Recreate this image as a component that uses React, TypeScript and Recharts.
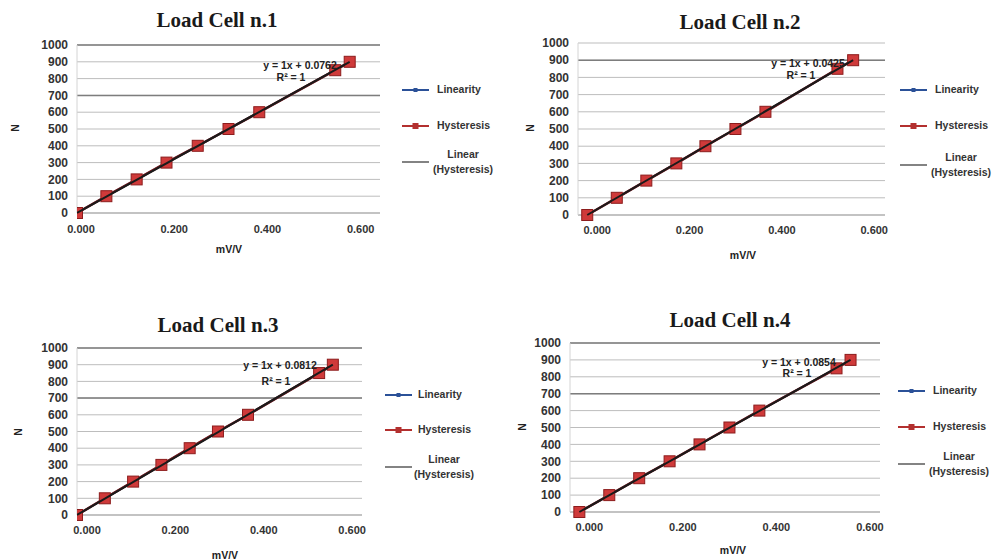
import React from 'react';
import { ScatterChart, Scatter, XAxis, YAxis, CartesianGrid, ReferenceLine } from 'recharts';

// values
const titles = ['Load Cell n.1', 'Load Cell n.2', 'Load Cell n.3', 'Load Cell n.4'];
const loadN = [0, 100, 200, 300, 400, 500, 600, 850, 900];
const mvCell1 = [0, 0.063, 0.128, 0.192, 0.259, 0.325, 0.391, 0.554, 0.585];
const mvCell2 = [0, 0.064, 0.128, 0.193, 0.256, 0.321, 0.386, 0.542, 0.576];
const mvCell3 = [0, 0.063, 0.127, 0.191, 0.255, 0.319, 0.387, 0.548, 0.579];
const mvCell4 = [0, 0.064, 0.128, 0.193, 0.257, 0.321, 0.385, 0.55, 0.58];
const equations = ['y = 1x + 0.0762', 'y = 1x + 0.0425', 'y = 1x + 0.0812', 'y = 1x + 0.0854'];
const darkLines = [[1000, 700], [900], [1000, 700], [1000, 700]];
const yTicks = [0, 100, 200, 300, 400, 500, 600, 700, 800, 900, 1000];
const xTicks = [0, 0.2, 0.4, 0.6];
const legendNames = ['Linearity', 'Hysteresis', 'Linear', '(Hysteresis)'];

const mvSeries = [mvCell1, mvCell2, mvCell3, mvCell4];

const SANS = '"Liberation Sans", Arial, sans-serif';
const W = 497;
const H = 280;

type Layout = {
  ox: number; oy: number;
  margin: { top: number; left: number; right: number; bottom: number };
  xDomain: [number, number];
  tickDx: number;
  tickMargin: number;
  title: [number, number];
  yLabel: [number, number];
  xLabel: [number, number];
  legend: { lineX: number; textX: number; rows: number[] };
  eq: [number, number];
  r2: [number, number];
};

const layouts: Layout[] = [
  {
    ox: 0, oy: 0,
    margin: { top: 45, left: 17, right: 117, bottom: 37 },
    xDomain: [0, 0.65], tickDx: 4, tickMargin: 12,
    title: [217, 20], yLabel: [15, 128], xLabel: [229, 249],
    legend: { lineX: 402, textX: 437, rows: [90, 126, 162] },
    eq: [300, 65], r2: [291, 77],
  },
  {
    ox: 497, oy: 0,
    margin: { top: 43, left: 21, right: 109, bottom: 35 },
    xDomain: [-0.02, 0.645], tickDx: 10, tickMargin: 11,
    title: [243, 22], yLabel: [33, 128], xLabel: [246, 255],
    legend: { lineX: 403, textX: 438, rows: [90, 126, 165] },
    eq: [311, 63], r2: [304, 75],
  },
  {
    ox: 0, oy: 280,
    margin: { top: 68, left: 17, right: 135, bottom: 15 },
    xDomain: [0, 0.645], tickDx: 10, tickMargin: 11,
    title: [218, 45], yLabel: [18, 152], xLabel: [225, 275],
    legend: { lineX: 385, textX: 418, rows: [115, 150, 187] },
    eq: [280, 85], r2: [276, 101],
  },
  {
    ox: 497, oy: 280,
    margin: { top: 63, left: 13, right: 114, bottom: 18 },
    xDomain: [-0.02, 0.643], tickDx: 10, tickMargin: 11,
    title: [233, 40], yLabel: [25, 147], xLabel: [236, 270],
    legend: { lineX: 401, textX: 436, rows: [111, 147, 184] },
    eq: [302, 82], r2: [300, 93],
  },
];

const SquareMarker = (props: any) => {
  const { cx, cy } = props;
  if (cx == null || cy == null) return <g />;
  return <rect x={cx - 5.5} y={cy - 5.5} width={11} height={11} fill="#cf3a3a" stroke="#8c1c1c" strokeWidth={1} />;
};

const NoMarker = () => <g />;

const centered = (x: number, y: number, extra: React.CSSProperties = {}): React.CSSProperties => ({
  position: 'absolute',
  left: x,
  top: y,
  transform: 'translate(-50%, -50%)',
  whiteSpace: 'nowrap',
  ...extra,
});

const LegendBlock = ({ lineX, textX, rows }: { lineX: number; textX: number; rows: number[] }) => {
  const txt: React.CSSProperties = { fontFamily: SANS, fontSize: 10.5, fontWeight: 'bold', color: '#333' };
  return (
    <>
      <svg style={{ position: 'absolute', left: 0, top: 0, overflow: 'visible' }} width={1} height={1}>
        <line x1={lineX} x2={lineX + 27} y1={rows[0]} y2={rows[0]} stroke="#2b5198" strokeWidth={2} />
        <rect x={lineX + 11.5} y={rows[0] - 2} width={4} height={4} fill="#2b5198" />
        <line x1={lineX} x2={lineX + 27} y1={rows[1]} y2={rows[1]} stroke="#b3302f" strokeWidth={2} />
        <rect x={lineX + 10.5} y={rows[1] - 3} width={6} height={6} fill="#b3302f" />
        <line x1={lineX} x2={lineX + 27} y1={rows[2]} y2={rows[2]} stroke="#5a5a5a" strokeWidth={1.5} />
      </svg>
      <div style={{ position: 'absolute', left: textX, top: rows[0] - 7, ...txt }}>{legendNames[0]}</div>
      <div style={{ position: 'absolute', left: textX, top: rows[1] - 7, ...txt }}>{legendNames[1]}</div>
      <div style={{ position: 'absolute', left: textX - 4, top: rows[2] - 15, textAlign: 'center', lineHeight: '15px', ...txt }}>
        {legendNames[2]}<br />{legendNames[3]}
      </div>
    </>
  );
};

const CellPanel = ({ idx }: { idx: number }) => {
  const lay = layouts[idx];
  const mv = mvSeries[idx];
  const points = mv.map((x, i) => ({ x, y: loadN[i] }));
  const trend = [points[0], points[points.length - 1]];
  const boldSmall: React.CSSProperties = { fontFamily: SANS, fontSize: 10.5, fontWeight: 'bold', color: '#222' };

  const xTick = (p: any) => (
    <text x={p.x + lay.tickDx} y={p.y} dy="0.71em" textAnchor="middle" fill="#333" fontFamily={SANS} fontSize={11} fontWeight="bold">
      {Number(p.payload.value).toFixed(3)}
    </text>
  );

  return (
    <div style={{ position: 'absolute', left: lay.ox, top: lay.oy, width: W, height: H }}>
      <ScatterChart width={W} height={H} margin={lay.margin}>
        <CartesianGrid vertical={false} stroke="#bdbdbd" strokeWidth={1} />
        <XAxis
          type="number"
          dataKey="x"
          domain={lay.xDomain}
          ticks={xTicks}
          interval={0}
          allowDataOverflow
          height={30}
          tickLine={false}
          tickSize={0}
          tickMargin={lay.tickMargin}
          axisLine={{ stroke: '#a8a8a8' }}
          tick={xTick}
        />
        <YAxis
          type="number"
          dataKey="y"
          domain={[0, 1000]}
          ticks={yTicks}
          interval={0}
          width={60}
          tickLine={false}
          tickSize={0}
          tickMargin={9}
          axisLine={{ stroke: '#d4d4d4' }}
          tick={{ fill: '#333', fontFamily: SANS, fontSize: 12, fontWeight: 'bold' }}
        />
        {darkLines[idx].map((v) => (
          <ReferenceLine key={v} y={v} stroke="#7d7d7d" strokeWidth={1.5} />
        ))}
        <Scatter
          name="Linearity"
          data={points}
          line={{ stroke: '#2b5198', strokeWidth: 2 }}
          shape={NoMarker}
          isAnimationActive={false}
        />
        <Scatter
          name="Hysteresis"
          data={points}
          line={{ stroke: '#7a1b1b', strokeWidth: 2.5 }}
          shape={SquareMarker}
          isAnimationActive={false}
        />
        <Scatter
          name="Linear (Hysteresis)"
          data={trend}
          line={{ stroke: '#1a1a1a', strokeWidth: 2 }}
          shape={NoMarker}
          isAnimationActive={false}
        />
      </ScatterChart>

      <div style={centered(lay.title[0], lay.title[1], { fontFamily: '"Liberation Serif", "Times New Roman", serif', fontWeight: 'bold', fontSize: 21, color: '#1a1a1a' })}>
        {titles[idx]}
      </div>
      <div style={centered(lay.yLabel[0], lay.yLabel[1], { ...boldSmall, transform: 'translate(-50%, -50%) rotate(-90deg)' })}>N</div>
      <div style={centered(lay.xLabel[0], lay.xLabel[1], boldSmall)}>mV/V</div>
      <div style={centered(lay.eq[0], lay.eq[1], { ...boldSmall, fontSize: 10.5 })}>{equations[idx]}</div>
      <div style={centered(lay.r2[0], lay.r2[1], { ...boldSmall, fontSize: 10.5 })}>R² = 1</div>
      <LegendBlock {...lay.legend} />
    </div>
  );
};

export default function App() {
  return (
    <div style={{ position: 'absolute', left: 0, top: 0, width: 994, height: 560, background: '#fff', overflow: 'hidden' }}>
      {titles.map((_, i) => (
        <CellPanel key={i} idx={i} />
      ))}
    </div>
  );
}
